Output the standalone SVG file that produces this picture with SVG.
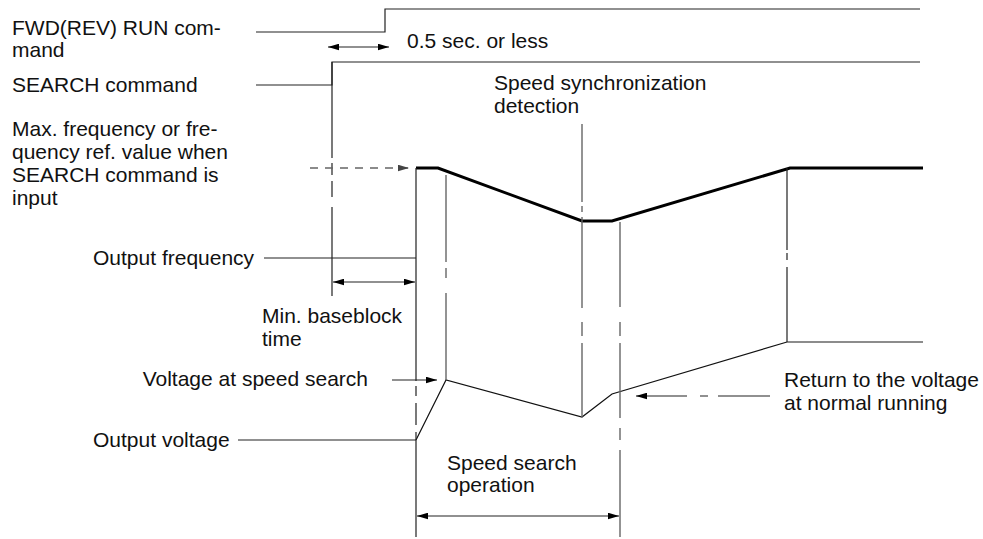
<svg xmlns="http://www.w3.org/2000/svg" width="983" height="539" viewBox="0 0 983 539">
<style>
text{font-family:"Liberation Sans",Arial,sans-serif;font-size:21px;fill:#111}
.ln{fill:none;stroke:#222;stroke-width:1.2}
.gr{fill:none;stroke:#666;stroke-width:1.4}
.bold{fill:none;stroke:#000;stroke-width:3;stroke-linejoin:miter}
.thin{fill:none;stroke:#111;stroke-width:1.2}
</style>
<defs>
<marker id="ah" viewBox="0 0 10 6" refX="10" refY="3" markerWidth="11" markerHeight="7" markerUnits="userSpaceOnUse" orient="auto-start-reverse"><path d="M0,0 L10,3 L0,6 z" fill="#000"/></marker>
<marker id="ahg" viewBox="0 0 10 6" refX="10" refY="3" markerWidth="11" markerHeight="7" markerUnits="userSpaceOnUse" orient="auto"><path d="M0,0 L10,3 L0,6 z" fill="#444"/></marker>
</defs>
<g id="labels">
<text x="12" y="35">FWD(REV) RUN com-</text>
<text x="12" y="57">mand</text>
<text x="12" y="92">SEARCH command</text>
<text x="12" y="136">Max. frequency or fre-</text>
<text x="12" y="159">quency ref. value when</text>
<text x="12" y="182">SEARCH command is</text>
<text x="12" y="205">input</text>
<text x="93" y="265">Output frequency</text>
<text x="262" y="323">Min. baseblock</text>
<text x="262" y="346">time</text>
<text x="368" y="386" text-anchor="end">Voltage at speed search</text>
<text x="93" y="447">Output voltage</text>
<text x="407" y="48">0.5 sec. or less</text>
<text x="494" y="90">Speed synchronization</text>
<text x="494" y="113">detection</text>
<text x="784" y="387">Return to the voltage</text>
<text x="784" y="410">at normal running</text>
<text x="447" y="470">Speed search</text>
<text x="447" y="492">operation</text>
</g>
<g id="signals">
<path id="fwd" class="ln" d="M256,32 H385 V9 H920"/>
<path id="search" class="ln" d="M256,85 H332 V62 H920"/>
<path id="freq" class="bold" d="M416,168 H438 L582,221 H612 L790,168 H923"/>
<path id="volt" class="thin" d="M416,440 L446,380 L582,417 L612,394 L787,342"/>
<path class="gr" d="M787,342 H923"/>
</g>
<g id="guides">
<path class="ln" d="M332,62 V158 M332,163 V175 M332,181 V197 M332,207 V296"/>
<path class="ln" d="M416,168 V381 M416,386 V396 M416,403 V425 M416,432 V537"/>
<path class="gr" d="M446,175 V262 M446,268 V278 M446,293 V380"/>
<path class="gr" d="M582,124 V202 M582,206 V212 M582,217 V308 M582,322 V336 M582,343 V417"/>
<path class="gr" d="M620,222 V307 M620,322 V336 M620,343 V418 M620,428 V440 M620,450 V537"/>
<path class="ln" d="M787,168 V250 M787,253 V260 M787,267 V342"/>
</g>
<g id="connectors">
<path class="ln" d="M264,258 H416"/>
<path class="ln" d="M238,440 H416"/>
<path class="ln" d="M328,47 H389" marker-start="url(#ah)" marker-end="url(#ah)"/>
<path class="gr" d="M310,168 H409" stroke-dasharray="8 7" marker-end="url(#ahg)"/>
<path class="ln" d="M333,282 H415" marker-start="url(#ah)" marker-end="url(#ah)"/>
<path class="ln" d="M392,380 H437" marker-end="url(#ah)"/>
<path class="ln" d="M770,396 H718 M708,396 H700 M687,396 H636" marker-end="url(#ah)"/>
<path class="ln" d="M417,516 H619" marker-start="url(#ah)" marker-end="url(#ah)"/>
</g>
</svg>
